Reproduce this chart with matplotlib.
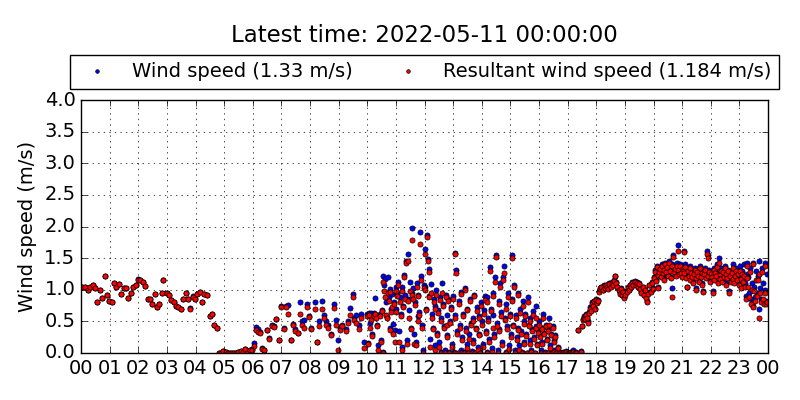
import numpy as np
import matplotlib
matplotlib.use("Agg")
import matplotlib.pyplot as plt

plt.style.use("classic")

latest_time = "2022-05-11 00:00:00"
latest_wind = 1.33
latest_resultant = 1.184

# hours after midnight, wind speed, resultant wind speed (m/s)
hours_night = [0.05, 0.14, 0.23, 0.31, 0.41, 0.49, 0.55, 0.65, 0.72, 0.84,
               0.90, 0.98, 1.07, 1.15, 1.21, 1.32, 1.40, 1.49, 1.56, 1.63,
               1.74, 1.82, 1.91, 1.98, 2.06, 2.15, 2.24, 2.34, 2.41, 2.49,
               2.57, 2.66, 2.72, 2.84, 2.88, 2.99, 3.06, 3.14, 3.24, 3.31,
               3.40, 3.49, 3.56, 3.67, 3.73, 3.80, 3.91, 3.98, 4.06, 4.15,
               4.22, 4.31, 4.39, 4.50, 4.56, 4.65, 4.75,
               4.83, 4.90, 4.97, 5.06, 5.12, 5.20, 5.27, 5.35, 5.42, 5.50,
               5.58, 5.67, 5.73, 5.80, 5.90, 5.99]
wind_night = [1.05, 1.04, 0.99, 1.04, 1.08, 1.03, 0.80, 0.99, 0.87, 1.22,
              0.91, 0.83, 0.81, 1.11, 1.05, 1.09, 0.94, 1.02, 1.02, 0.87,
              0.95, 1.05, 1.08, 1.17, 1.15, 1.12, 1.06, 0.86, 0.86, 0.78,
              0.93, 0.72, 0.78, 0.95, 1.16, 0.95, 0.91, 0.84, 0.80, 0.75,
              0.72, 0.70, 0.86, 0.95, 0.86, 0.71, 0.90, 0.85, 0.93, 0.96,
              0.80, 0.94, 0.91, 0.58, 0.62, 0.45, 0.40,
              0.00, 0.00, 0.03, 0.01, 0.00, 0.00, 0.00, 0.00, 0.00, 0.01,
              0.03, 0.01, 0.06, 0.00, 0.05, 0.06]
res_night = [1.05, 1.04, 0.99, 1.04, 1.08, 1.03, 0.80, 0.99, 0.87, 1.22,
             0.91, 0.83, 0.81, 1.11, 1.05, 1.09, 0.94, 1.02, 1.02, 0.87,
             0.95, 1.05, 1.08, 1.16, 1.15, 1.12, 1.06, 0.86, 0.86, 0.78,
             0.93, 0.72, 0.78, 0.95, 1.16, 0.95, 0.91, 0.84, 0.80, 0.75,
             0.72, 0.70, 0.86, 0.95, 0.86, 0.70, 0.89, 0.85, 0.93, 0.96,
             0.80, 0.94, 0.91, 0.58, 0.62, 0.45, 0.40,
             0.00, 0.00, 0.03, 0.01, 0.00, 0.00, 0.00, 0.00, 0.00, 0.01,
             0.03, 0.01, 0.06, 0.00, 0.05, 0.05]

hours_morning = [6.06, 6.12, 6.18, 6.25, 6.31, 6.38, 6.49, 6.56, 6.66, 6.74,
                 6.81, 6.90, 6.98, 7.09, 7.16, 7.23, 7.33, 7.41, 7.49, 7.58,
                 7.65, 7.72, 7.80, 7.88, 7.98, 8.05, 8.18, 8.23, 8.30, 8.41,
                 8.48, 8.55, 8.62, 8.73, 8.84, 8.90, 8.97, 9.05, 9.12, 9.25,
                 9.33, 9.40, 9.49, 9.55, 9.62, 9.70, 9.78, 9.89, 9.98]
wind_morning = [0.16, 0.41, 0.38, 0.33, 0.08, 0.05, 0.37, 0.23, 0.44, 0.42,
                0.54, 0.21, 0.74, 0.39, 0.75, 0.76, 0.21, 0.46, 0.38, 0.32,
                0.81, 0.50, 0.52, 0.77, 0.58, 0.40, 0.81, 0.18, 0.50, 0.82,
                0.60, 0.50, 0.45, 0.30, 0.77, 0.52, 0.20, 0.40, 0.44, 0.38,
                0.50, 0.71, 0.93, 0.56, 0.60, 0.45, 0.62, 0.18, 0.62]
res_morning = [0.11, 0.37, 0.33, 0.32, 0.07, 0.04, 0.36, 0.22, 0.43, 0.41,
               0.53, 0.20, 0.73, 0.38, 0.73, 0.61, 0.20, 0.45, 0.34, 0.31,
               0.62, 0.44, 0.40, 0.72, 0.57, 0.38, 0.70, 0.17, 0.42, 0.70,
               0.56, 0.45, 0.40, 0.29, 0.71, 0.45, 0.05, 0.36, 0.42, 0.35,
               0.48, 0.60, 0.88, 0.52, 0.47, 0.38, 0.55, 0.08, 0.58]

hours_midday = [10.02, 10.06, 10.10, 10.14, 10.18, 10.22, 10.27, 10.31, 10.35, 10.39,
                10.43, 10.47, 10.50, 10.54, 10.56, 10.58, 10.62, 10.65, 10.69, 10.72,
                10.75, 10.78, 10.81, 10.84, 10.87, 10.90, 10.93, 10.96, 10.99,
                11.02, 11.05, 11.08, 11.11, 11.14, 11.17, 11.20, 11.23, 11.26, 11.29,
                11.32, 11.35, 11.38, 11.41, 11.44, 11.47, 11.50, 11.53, 11.55, 11.58,
                11.61, 11.64, 11.67, 11.70, 11.73, 11.76, 11.79, 11.82, 11.84, 11.88,
                11.91, 11.94, 11.97,
                12.00, 12.03, 12.06, 12.09, 12.12, 12.14, 12.17, 12.20, 12.23, 12.26,
                12.29, 12.32, 12.35, 12.38, 12.41, 12.44, 12.47, 12.50, 12.53, 12.56,
                12.59, 12.62, 12.65, 12.68, 12.71, 12.74, 12.77, 12.80, 12.83, 12.86,
                12.89, 12.92, 12.95, 12.98]
wind_midday = [0.16, 0.64, 0.48, 0.63, 0.30, 0.64, 0.87, 0.60, 0.45, 0.13,
               0.62, 0.20, 0.68, 1.21, 0.02, 1.07, 1.17, 0.80, 0.57, 1.20,
               0.88, 0.39, 1.01, 0.70, 0.93, 0.46, 0.80, 0.36, 1.05,
               0.70, 0.95, 1.12, 0.35, 0.88, 0.62, 1.05, 0.10, 0.75, 1.23,
               0.92, 1.45, 0.20, 1.57, 0.85, 0.68, 1.12, 0.40, 1.98, 0.95,
               1.02, 0.30, 0.80, 0.18, 1.10, 0.58, 0.92, 0.65, 1.92, 1.22,
               0.45, 0.05, 1.08,
               1.64, 1.05, 0.70, 1.86, 1.48, 1.33, 0.90, 0.22, 1.09, 0.62,
               0.40, 0.85, 0.12, 0.74, 0.99, 0.32, 0.68, 0.18, 0.88, 0.55,
               0.02, 1.11, 0.78, 0.42, 0.05, 0.92, 0.60, 0.28, 0.85, 0.01,
               0.50, 0.72, 0.15, 0.90]
res_midday = [0.14, 0.60, 0.40, 0.52, 0.27, 0.58, 0.62, 0.55, 0.42, 0.05,
              0.58, 0.18, 0.66, 1.13, 0.00, 0.98, 0.88, 0.60, 0.55, 0.95,
              0.82, 0.36, 0.96, 0.65, 0.72, 0.30, 0.78, 0.18, 0.98,
              0.65, 0.90, 1.08, 0.17, 0.80, 0.58, 0.98, 0.05, 0.72, 1.20,
              0.85, 1.42, 0.15, 1.45, 0.82, 0.55, 0.98, 0.38, 1.78, 0.92,
              0.85, 0.14, 0.76, 0.12, 1.05, 0.50, 0.90, 0.60, 1.72, 1.15,
              0.40, 0.00, 1.02,
              1.57, 1.00, 0.68, 1.83, 1.46, 1.28, 0.88, 0.10, 0.95, 0.55,
              0.38, 0.80, 0.05, 0.70, 0.92, 0.28, 0.64, 0.10, 0.84, 0.50,
              0.00, 0.95, 0.74, 0.40, 0.00, 0.88, 0.45, 0.25, 0.82, 0.00,
              0.48, 0.70, 0.10, 0.86]

hours_afternoon = [13.02, 13.05, 13.08, 13.11, 13.14, 13.17, 13.20, 13.23, 13.26, 13.29,
                   13.32, 13.35, 13.38, 13.41, 13.44, 13.47, 13.50, 13.53, 13.56, 13.59,
                   13.62, 13.65, 13.68, 13.71, 13.74, 13.77, 13.80, 13.83, 13.86, 13.89,
                   13.92, 13.95, 13.98,
                   14.02, 14.05, 14.08, 14.11, 14.14, 14.17, 14.20, 14.23, 14.26, 14.29,
                   14.32, 14.35, 14.38, 14.41, 14.44, 14.47, 14.50, 14.53, 14.56, 14.59,
                   14.62, 14.65, 14.68, 14.71, 14.74, 14.77, 14.80, 14.83, 14.86, 14.89,
                   14.92, 14.95, 14.98,
                   15.01, 15.04, 15.07, 15.10, 15.13, 15.16, 15.19, 15.22, 15.25, 15.28,
                   15.31, 15.34, 15.37, 15.40, 15.43, 15.46, 15.49, 15.52, 15.55, 15.58,
                   15.61, 15.64, 15.67, 15.70, 15.73, 15.76, 15.79, 15.82, 15.85, 15.88,
                   15.91, 15.94, 15.97]
wind_afternoon = [0.02, 0.60, 1.58, 1.31, 0.35, 0.00, 0.82, 0.45, 0.05, 0.96,
                  0.25, 0.62, 0.01, 1.02, 0.40, 0.15, 0.70, 0.00, 0.30, 0.85,
                  0.48, 0.03, 0.55, 0.20, 0.92, 0.00, 0.40, 0.72, 0.10, 0.58,
                  0.30, 0.02, 0.80,
                  0.50, 0.15, 0.68, 0.90, 0.35, 0.02, 0.89, 0.55, 0.22, 1.36,
                  0.70, 0.08, 0.60, 0.95, 0.30, 1.20, 1.55, 0.48, 0.05, 0.82,
                  0.38, 1.11, 0.65, 0.18, 1.20, 1.38, 0.55, 0.02, 0.78, 0.42,
                  0.95, 0.12, 0.62,
                  0.30, 1.55, 0.85, 0.45, 1.08, 0.05, 0.60, 0.25, 0.95, 0.40,
                  0.12, 0.70, 0.35, 0.02, 0.82, 0.50, 0.18, 0.62, 0.30, 0.00,
                  0.88, 0.45, 0.20, 0.55, 0.05, 0.38, 0.66, 0.25, 0.00, 0.42,
                  0.75, 0.15, 0.35]
res_afternoon = [0.00, 0.55, 1.56, 1.26, 0.30, 0.00, 0.78, 0.40, 0.00, 0.94,
                 0.20, 0.58, 0.00, 1.00, 0.35, 0.08, 0.68, 0.00, 0.22, 0.82,
                 0.45, 0.00, 0.50, 0.16, 0.90, 0.00, 0.38, 0.66, 0.05, 0.55,
                 0.28, 0.00, 0.75,
                 0.45, 0.10, 0.62, 0.84, 0.32, 0.00, 0.80, 0.50, 0.18, 1.30,
                 0.66, 0.02, 0.40, 0.90, 0.26, 1.12, 1.52, 0.42, 0.00, 0.78,
                 0.34, 1.05, 0.58, 0.12, 1.16, 1.27, 0.52, 0.00, 0.70, 0.38,
                 0.88, 0.06, 0.58,
                 0.26, 1.50, 0.82, 0.42, 1.05, 0.00, 0.55, 0.20, 0.92, 0.36,
                 0.05, 0.64, 0.30, 0.00, 0.75, 0.46, 0.14, 0.58, 0.27, 0.00,
                 0.80, 0.42, 0.15, 0.50, 0.02, 0.35, 0.60, 0.22, 0.00, 0.40,
                 0.55, 0.12, 0.32]

hours_calm = [16.00, 16.03, 16.06, 16.09, 16.12, 16.15, 16.18, 16.21, 16.24, 16.27,
              16.30, 16.33, 16.36, 16.39, 16.42, 16.45, 16.48, 16.51, 16.54, 16.57,
              16.60, 16.65, 16.70, 16.75, 16.80, 16.85, 16.90, 16.95, 17.00, 17.05,
              17.10, 17.15, 17.20, 17.25, 17.30, 17.37, 17.45, 17.51, 17.55, 17.58,
              17.62, 17.65, 17.68, 17.72, 17.75, 17.78, 17.82, 17.85, 17.88, 17.92,
              17.95, 17.98]
wind_calm = [0.50, 0.28, 0.05, 0.40, 0.18, 0.62, 0.32, 0.02, 0.45, 0.22,
             0.00, 0.38, 0.55, 0.12, 0.30, 0.00, 0.42, 0.20, 0.05, 0.28,
             0.00, 0.10, 0.00, 0.02, 0.00, 0.01, 0.00, 0.03, 0.00, 0.00,
             0.02, 0.00, 0.04, 0.00, 0.01, 0.36, 0.03, 0.42, 0.53, 0.58,
             0.55, 0.62, 0.57, 0.50, 0.65, 0.72, 0.68, 0.80, 0.75, 0.83,
             0.70, 0.85]
res_calm = [0.45, 0.25, 0.00, 0.38, 0.15, 0.55, 0.30, 0.00, 0.42, 0.20,
            0.00, 0.35, 0.45, 0.08, 0.28, 0.00, 0.40, 0.18, 0.02, 0.25,
            0.00, 0.08, 0.00, 0.00, 0.00, 0.00, 0.00, 0.01, 0.00, 0.00,
            0.00, 0.00, 0.02, 0.00, 0.00, 0.36, 0.02, 0.42, 0.52, 0.56,
            0.54, 0.60, 0.56, 0.48, 0.64, 0.70, 0.67, 0.78, 0.74, 0.82,
            0.69, 0.84]

hours_evening = [18.02, 18.05, 18.10, 18.14, 18.18, 18.22, 18.26, 18.30, 18.34, 18.38,
                 18.42, 18.46, 18.50, 18.54, 18.58, 18.62, 18.66, 18.70, 18.74, 18.78,
                 18.82, 18.86, 18.90, 18.94, 18.98,
                 19.02, 19.06, 19.10, 19.14, 19.18, 19.22, 19.26, 19.30, 19.34, 19.38,
                 19.42, 19.46, 19.50, 19.54, 19.58, 19.62, 19.66, 19.70, 19.74, 19.78,
                 19.82, 19.86, 19.90, 19.94, 19.98,
                 20.02, 20.05, 20.08, 20.11, 20.14, 20.17, 20.20, 20.23, 20.26, 20.29,
                 20.32, 20.35, 20.38, 20.41, 20.44, 20.47, 20.50, 20.53, 20.56, 20.60,
                 20.63, 20.66, 20.69, 20.72, 20.75, 20.78, 20.81, 20.84, 20.87, 20.90,
                 20.93, 20.96, 20.99]
wind_evening = [0.80, 0.84, 0.98, 1.02, 1.05, 1.00, 1.07, 1.03, 1.08, 1.05,
                1.02, 1.10, 1.06, 1.12, 1.09, 1.15, 1.22, 1.12, 1.05, 1.00,
                0.95, 1.02, 0.92, 0.98, 0.88,
                0.93, 0.98, 1.04, 1.00, 1.08, 1.05, 1.12, 1.09, 1.14, 1.08,
                1.12, 1.05, 1.10, 1.02, 0.96, 1.05, 0.92, 1.00, 0.88, 0.82,
                0.95, 1.08, 0.98, 1.12, 1.02,
                1.20, 1.32, 1.15, 1.38, 1.25, 1.05, 1.30, 1.35, 1.22, 1.40,
                1.28, 1.35, 1.18, 1.42, 1.30, 1.38, 1.25, 1.45, 1.33, 1.20,
                1.02, 1.40, 1.55, 1.30, 1.36, 1.25, 1.42, 1.70, 1.35, 1.28,
                1.40, 1.30, 1.22]
res_evening = [0.79, 0.83, 0.97, 1.01, 1.04, 0.99, 1.06, 1.02, 1.07, 1.04,
               1.01, 1.09, 1.05, 1.11, 1.08, 1.14, 1.21, 1.11, 1.04, 0.99,
               0.94, 1.01, 0.91, 0.97, 0.87,
               0.92, 0.97, 1.03, 0.99, 1.07, 1.04, 1.11, 1.08, 1.13, 1.07,
               1.11, 1.04, 1.09, 1.01, 0.95, 1.04, 0.91, 0.99, 0.87, 0.81,
               0.94, 1.07, 0.97, 1.11, 1.01,
               1.18, 1.28, 1.14, 1.36, 1.24, 1.03, 1.28, 1.33, 1.20, 1.38,
               1.26, 1.32, 1.16, 1.40, 1.28, 1.36, 1.22, 1.42, 1.30, 1.18,
               0.89, 1.37, 1.52, 1.28, 1.33, 1.22, 1.38, 1.62, 1.32, 1.25,
               1.38, 1.26, 1.20]

hours_late = [21.02, 21.05, 21.08, 21.11, 21.14, 21.17, 21.20, 21.23, 21.26, 21.29,
              21.32, 21.35, 21.38, 21.41, 21.44, 21.47, 21.50, 21.53, 21.56, 21.59,
              21.62, 21.65, 21.68, 21.71, 21.74, 21.77, 21.80, 21.83, 21.86, 21.89,
              21.92, 21.95, 21.98,
              22.01, 22.04, 22.07, 22.10, 22.13, 22.16, 22.19, 22.22, 22.25, 22.28,
              22.31, 22.34, 22.37, 22.40, 22.43, 22.46, 22.49, 22.52, 22.55, 22.58,
              22.61, 22.64, 22.67, 22.70, 22.73, 22.76, 22.79, 22.82, 22.85, 22.88,
              22.91, 22.94, 22.97,
              23.01, 23.04, 23.07, 23.10, 23.13, 23.16, 23.19, 23.22, 23.25, 23.28,
              23.31, 23.34, 23.37, 23.40, 23.43, 23.46, 23.49, 23.52, 23.55, 23.58,
              23.61, 23.64, 23.67, 23.70, 23.73, 23.76, 23.79, 23.82, 23.85, 23.88,
              23.91, 23.94, 23.97]
wind_late = [1.35, 1.62, 1.28, 1.40, 1.20, 1.05, 1.32, 1.25, 1.38, 1.18,
             1.30, 1.22, 1.12, 1.28, 1.35, 1.20, 1.02, 1.30, 1.25, 1.15,
             1.38, 1.22, 1.30, 1.10, 0.98, 1.28, 1.35, 1.20, 1.62, 1.55,
             1.25, 1.32, 1.15,
             1.28, 1.22, 0.98, 1.35, 1.18, 1.30, 1.25, 1.40, 1.12, 1.50,
             1.28, 1.20, 1.35, 1.15, 1.30, 1.24, 1.38, 1.10, 1.28, 1.20,
             1.32, 0.98, 1.25, 1.15, 1.30, 1.20, 1.40, 1.12, 1.25, 1.35,
             1.18, 1.28, 1.10,
             1.38, 1.20, 1.05, 1.30, 1.15, 1.40, 1.10, 0.90, 1.25, 1.42,
             1.20, 0.95, 1.35, 0.85, 1.10, 0.75, 1.42, 1.05, 0.88, 1.30,
             0.95, 1.22, 0.70, 1.45, 1.02, 0.85, 1.35, 1.10, 0.80, 1.42,
             1.00, 0.82, 1.25]
res_late = [1.33, 1.60, 1.26, 1.36, 1.18, 1.04, 1.30, 1.22, 1.35, 1.16,
            1.27, 1.20, 1.10, 1.25, 1.32, 1.18, 1.00, 1.28, 1.22, 1.12,
            1.34, 1.20, 1.27, 1.08, 0.97, 1.25, 1.32, 1.18, 1.56, 1.50,
            1.22, 1.28, 1.12,
            1.25, 1.20, 0.95, 1.32, 1.15, 1.26, 1.22, 1.36, 1.10, 1.42,
            1.25, 1.17, 1.30, 1.12, 1.28, 1.20, 1.34, 1.08, 1.25, 1.18,
            1.29, 0.95, 1.22, 1.12, 1.27, 1.17, 1.35, 1.10, 1.22, 1.30,
            1.15, 1.25, 1.08,
            1.30, 1.17, 1.02, 1.25, 1.12, 1.22, 1.05, 0.85, 1.18, 1.38,
            1.05, 0.88, 1.28, 0.78, 1.00, 0.72, 1.40, 0.98, 0.82, 1.15,
            0.90, 1.15, 0.55, 1.25, 0.95, 0.80, 1.28, 0.85, 0.78, 1.38,
            0.95, 0.78, 0.80]

hour_labels = ["%02d" % h for h in range(24)] + ["00"]

hours = np.concatenate([hours_night, hours_morning, hours_midday,
                        hours_afternoon, hours_calm, hours_evening, hours_late])
wind = np.concatenate([wind_night, wind_morning, wind_midday,
                       wind_afternoon, wind_calm, wind_evening, wind_late])
resultant = np.concatenate([res_night, res_morning, res_midday,
                            res_afternoon, res_calm, res_evening, res_late])

fig = plt.figure(figsize=(8, 4), dpi=100, facecolor="white")
ax = fig.add_axes([0.10125, 0.1175, 0.85875, 0.6325])

ax.plot(hours, wind, "o", color="b", markersize=3.7, markeredgecolor="k",
        markeredgewidth=0.5, label="Wind speed (%s m/s)" % latest_wind)
ax.plot(hours, resultant, "o", color="r", markersize=3.7, markeredgecolor="k",
        markeredgewidth=0.5, label="Resultant wind speed (%s m/s)" % latest_resultant)

ax.set_xlim(0, 24)
ax.set_ylim(0, 4.0)
ax.set_xticks(range(25))
ax.set_xticklabels(hour_labels)
ax.set_yticks(np.arange(0, 4.01, 0.5))
ax.set_yticklabels(["%.1f" % v for v in np.arange(0, 4.01, 0.5)])
ax.tick_params(labelsize=14)
ax.grid(True)
ax.set_ylabel("Wind speed (m/s)", fontsize=14)

ax.legend(loc="lower left", bbox_to_anchor=(-0.016, 1.043, 1.032, 0.135),
          mode="expand", ncol=2, numpoints=1, markerscale=0.7,
          fontsize=14, borderaxespad=0.0)

fig.text(0.531, 0.9125, "Latest time: " + latest_time, fontsize=16.5,
         ha="center", va="center")

fig.savefig("out.png", dpi=100, facecolor="white")
